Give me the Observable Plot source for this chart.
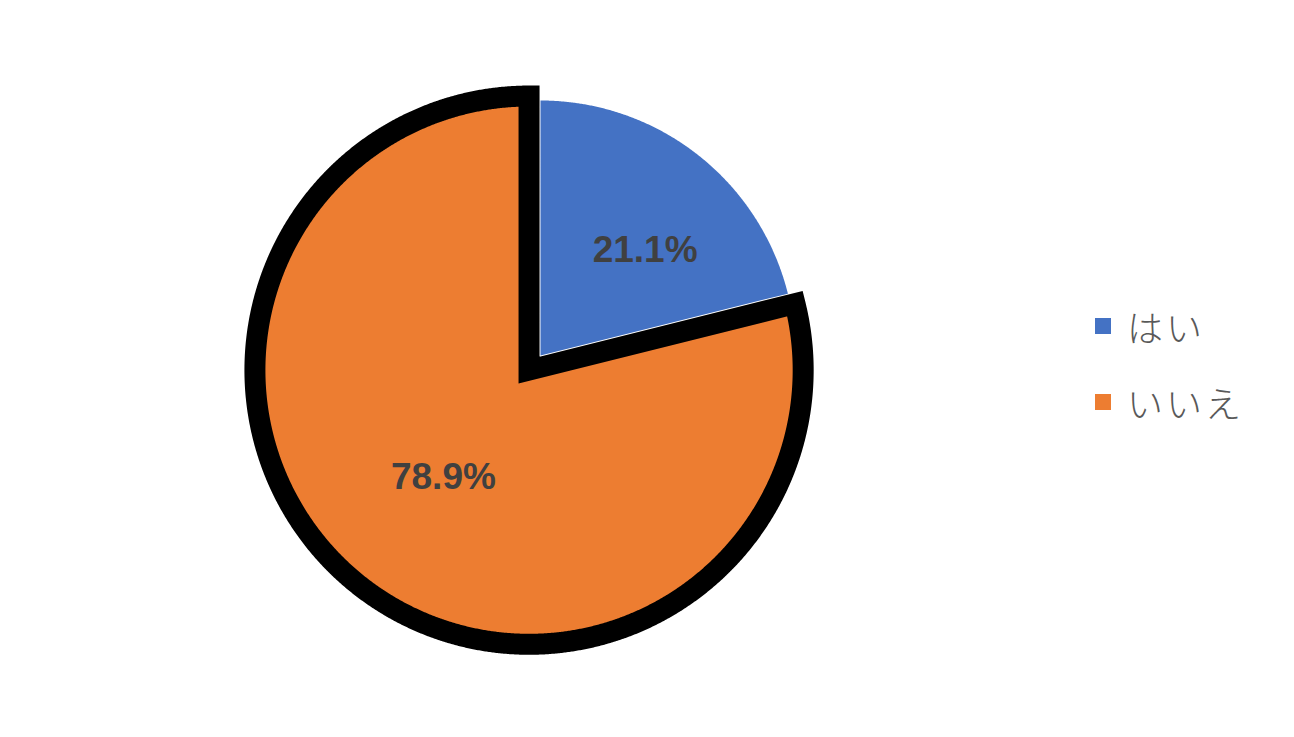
<!DOCTYPE html>
<html><head><meta charset="utf-8">
<script src="https://cdn.jsdelivr.net/npm/d3@7"></script>
<script src="https://cdn.jsdelivr.net/npm/@observablehq/plot@0.6"></script>
<style>
html,body{margin:0;padding:0;background:#fff;}
#wrap{position:relative;width:1294px;height:737px;overflow:hidden;}
#legend{position:absolute;left:1095px;top:301px;font-family:"Noto Sans CJK JP","Noto Sans",sans-serif;font-weight:300;color:#595959;}
.row{display:flex;align-items:center;height:50px;margin-bottom:26px;font-size:36px;letter-spacing:3px;}
.sw{width:16px;height:16px;margin-right:16px;flex:none;}
</style></head><body><div id="wrap"></div>
<script>
// Data
const categories = ["はい", "いいえ"];
const values = [21.1, 78.9];
const colors = ["#4472C4", "#ED7D31"];
const exploded = [false, true];

// Geometry helpers (unit radius = blue slice radius)
const W = 1294, H = 737, CX = 540, CY = 355, R = 255;
const total = d3.sum(values);
const explodeDist = 0.073;
const outlineRadius = 1.075;

const polys = [];
const labels = [];
let cum = 0;
values.forEach((v, i) => {
  const a0 = cum / total * 2 * Math.PI;
  cum += v;
  const a1 = cum / total * 2 * Math.PI;
  const mid = (a0 + a1) / 2;
  const off = exploded[i] ? explodeDist : 0;
  const r = exploded[i] ? outlineRadius : 1;
  const ox = off * Math.sin(mid), oy = off * Math.cos(mid);
  polys.push({key: categories[i], i, x: ox, y: oy});
  const n = Math.max(8, Math.ceil((a1 - a0) / (Math.PI / 720)));
  for (let k = 0; k <= n; k++) {
    const a = a0 + (a1 - a0) * k / n;
    polys.push({key: categories[i], i, x: ox + r * Math.sin(a), y: oy + r * Math.cos(a)});
  }
  labels.push({key: categories[i], i, text: v.toFixed(1) + "%", x: ox + 0.533 * Math.sin(mid), y: oy + 0.533 * Math.cos(mid)});
});

const labelStyle = {x: "x", y: "y", text: "text", fill: "#404040", fontSize: 37, fontWeight: "bold",
  fontFamily: "'Liberation Sans', Arial, sans-serif"};

const chart = Plot.plot({
  width: W, height: H,
  margin: 0,
  x: {domain: [-CX / R, (W - CX) / R], axis: null},
  y: {domain: [-(H - CY) / R, CY / R], axis: null},
  color: {domain: categories, range: colors},
  style: {background: "#fff"},
  marks: [
    Plot.line(polys.filter(d => !exploded[d.i]), {
      x: "x", y: "y", z: "key", fill: "key", stroke: "none", curve: "linear-closed"
    }),
    Plot.line(polys.filter(d => exploded[d.i]), {
      x: "x", y: "y", z: "key", fill: "key", stroke: "#000", strokeWidth: 21,
      strokeLinejoin: "miter", strokeMiterlimit: 10, curve: "linear-closed"
    }),
    Plot.text(labels.filter(d => !exploded[d.i]), {...labelStyle, dx: 21, dy: 2}),
    Plot.text(labels.filter(d => exploded[d.i]), {...labelStyle, dx: -2, dy: 0})
  ]
});
const wrap = document.getElementById("wrap");
wrap.appendChild(chart);

const legend = document.createElement("div");
legend.id = "legend";
categories.forEach((c, i) => {
  const row = document.createElement("div");
  row.className = "row";
  const sw = document.createElement("div");
  sw.className = "sw";
  sw.style.background = colors[i];
  const t = document.createElement("span");
  t.textContent = c;
  row.appendChild(sw); row.appendChild(t);
  legend.appendChild(row);
});
wrap.appendChild(legend);
</script></body></html>
